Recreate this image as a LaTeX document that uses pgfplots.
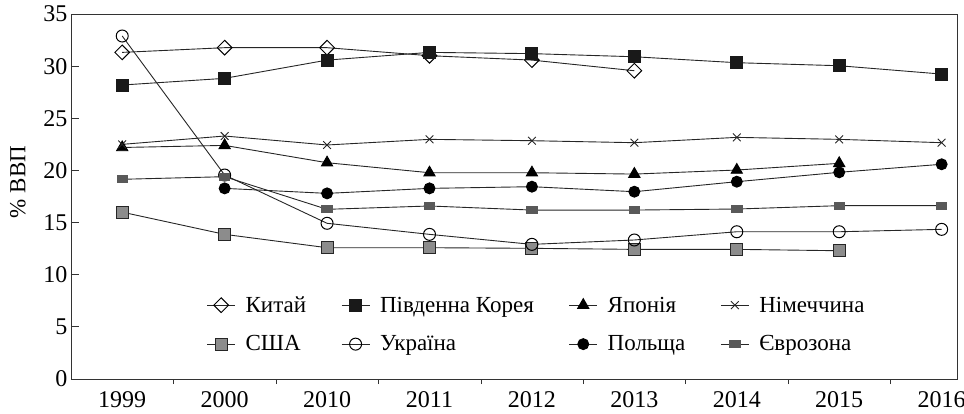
\documentclass[border=0pt]{standalone}
\usepackage{fontspec}
\setmainfont{Liberation Serif}
\usepackage{pgfplots}
\pgfplotsset{compat=1.18}
\begin{document}
\begin{tikzpicture}
\begin{axis}[
  at={(0,0)}, anchor=south west,
  scale only axis, width=886pt, height=365pt,
  xmin=-0.5, xmax=8.15, ymin=0, ymax=35,
  xtick={0,...,8},
  xticklabels={1999,2000,2010,2011,2012,2013,2014,2015,2016},
  ytick={0,5,...,35},
  tick pos=left,
  tick align=inside,
  major tick length=8pt,
  xtick style={draw=none},
  extra x ticks={0.5,1.5,...,7.5},
  extra x tick labels={},
  extra x tick style={xtick style={draw=black!80}, tick align=outside, major tick length=5pt},
  axis line style={draw=black!80, line width=0.9pt},
  ytick style={draw=black!80, line width=0.9pt},
  /pgf/number format/assume math mode=true,
  tick label style={font=\fontsize{24}{27}\selectfont},
  xticklabel style={yshift=-9pt},
  ylabel={\% ВВП},
  ylabel style={at={(axis description cs:-0.06,0.54)}, anchor=center, font=\fontsize{23}{26}\selectfont},
  legend columns=4,
  legend cell align=left,
  legend style={draw=none, fill=none, at={(rel axis cs:0.153,0.232)}, anchor=north west,
    font=\fontsize{23}{26}\selectfont, inner sep=0pt, row sep=18pt,
    /tikz/every odd column/.append style={column sep=8pt},
    /tikz/every even column/.append style={column sep=33pt}},
  legend image code/.code={\draw[mark repeat=2,mark phase=2] plot coordinates {(0pt,0pt) (14pt,0pt) (28pt,0pt)};},
  every axis plot/.append style={line width=0.9pt, draw=black!85},
]
\addplot[mark=square, mark size=5.2, mark options={rotate=45, fill=white, draw=black, line width=1pt}]
  coordinates {(0,31.32)(1,31.77)(2,31.77)(3,31.0)(4,30.58)(5,29.56)};
\addlegendentry{Китай}
\addplot[mark=square*, mark size=6, mark options={fill=black!90, draw=black!90}]
  coordinates {(0,28.19)(1,28.83)(2,30.58)(3,31.32)(4,31.2)(5,30.9)(6,30.33)(7,30.04)(8,29.24)};
\addlegendentry{Південна Корея}
\addplot[mark=triangle*, mark size=6.5, mark options={fill=black, draw=black}]
  coordinates {(0,22.2)(1,22.4)(2,20.74)(3,19.78)(4,19.78)(5,19.65)(6,20.04)(7,20.68)};
\addlegendentry{Японія}
\addplot[mark=x, mark size=5.5, mark options={draw=black!85, line width=0.9pt}]
  coordinates {(0,22.5)(1,23.3)(2,22.44)(3,22.98)(4,22.85)(5,22.66)(6,23.17)(7,22.98)(8,22.66)};
\addlegendentry{Німеччина}
\addplot[mark=square*, mark size=6, mark options={fill=black!45, draw=black!85, line width=0.9pt}]
  coordinates {(0,16.0)(1,13.87)(2,12.59)(3,12.59)(4,12.53)(5,12.43)(6,12.43)(7,12.3)};
\addlegendentry{США}
\addplot[mark=o, mark size=6, mark options={fill=white, draw=black, line width=1pt}]
  coordinates {(0,32.89)(1,19.56)(2,14.93)(3,13.87)(4,12.91)(5,13.33)(6,14.12)(7,14.12)(8,14.35)};
\addlegendentry{Україна}
\addplot[mark=*, mark size=5.5, mark options={fill=black, draw=black}]
  coordinates {(1,18.28)(2,17.8)(3,18.28)(4,18.44)(5,17.96)(6,18.92)(7,19.82)(8,20.59)};
\addlegendentry{Польща}
\addplot[mark=square*, mark size=3.5, mark options={fill=black!65, draw=black!65, xscale=1.5}]
  coordinates {(0,19.15)(1,19.4)(2,16.27)(3,16.59)(4,16.2)(5,16.2)(6,16.3)(7,16.62)(8,16.62)};
\addlegendentry{Єврозона}
\end{axis}
\pgfresetboundingbox
\useasboundingbox (-71pt,-34pt) rectangle (893pt,379pt);
\end{tikzpicture}
\end{document}
